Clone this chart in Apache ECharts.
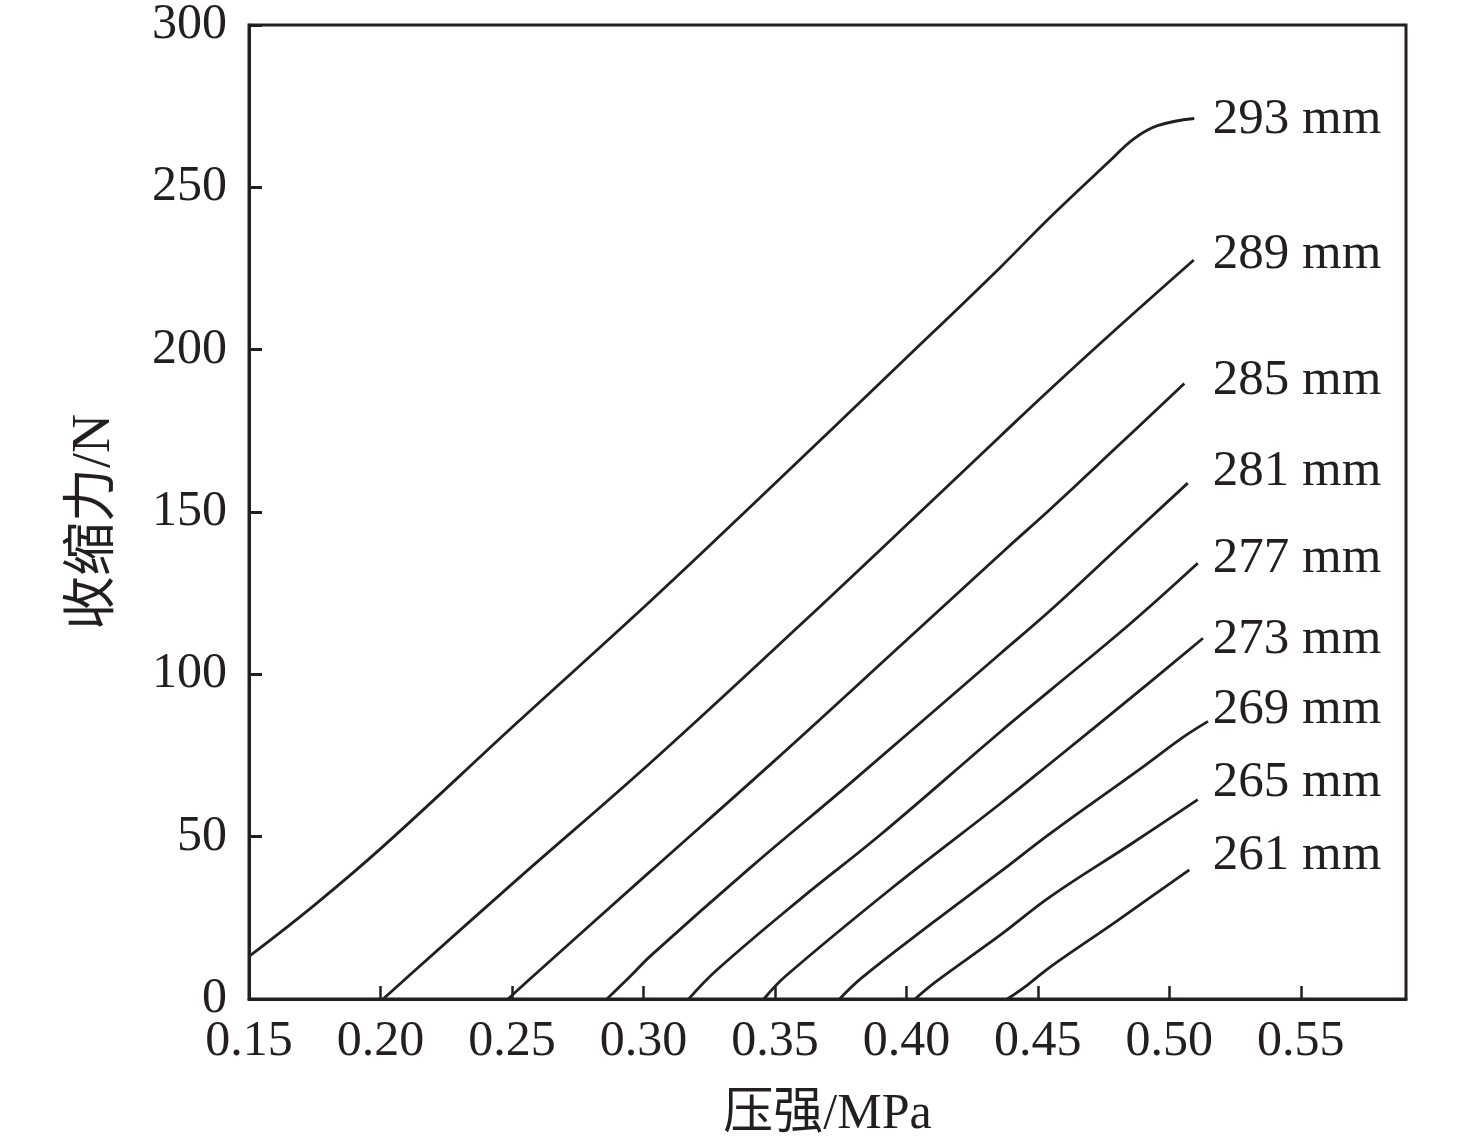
<!DOCTYPE html>
<html>
<head>
<meta charset="utf-8">
<script src="https://cdn.jsdelivr.net/npm/echarts@6/dist/echarts.min.js"></script>
<style>
html,body{margin:0;padding:0;background:#fff;}
#chart{width:1476px;height:1146px;}
</style>
</head>
<body>
<div id="chart"></div>
<script>
// ---- data (pressure MPa, shrink force N) ----
const curveNames = ['293 mm','289 mm','285 mm','281 mm','277 mm','273 mm','269 mm','265 mm','261 mm'];
const c293 = [[0.150,13.1],[0.175,29.0],[0.201,47.0],[0.2518,85.0],[0.3026,122.5],[0.3438,154.0],[0.400,197.5],[0.4359,225.5],[0.4543,240.5],[0.4777,258.4],[0.4866,265.0],[0.4955,269.0],[0.5095,271.2]];
const c289 = [[0.201,0],[0.212,8.0],[0.2518,36.7],[0.3026,72.7],[0.360,115.5],[0.4092,153.0],[0.4359,173.5],[0.4543,187.5],[0.480,206.5],[0.5093,227.6]];
const c285 = [[0.2485,0],[0.258,7.0],[0.3026,39.3],[0.350,73.5],[0.400,110.5],[0.4384,139.0],[0.4549,151.0],[0.480,170.0],[0.5057,189.6]];
const c281 = [[0.2861,0],[0.295,7.0],[0.3026,13.2],[0.340,40.0],[0.3787,66.5],[0.4359,106.5],[0.4549,119.8],[0.4809,139.3],[0.5070,158.9]];
const c277 = [[0.3172,0],[0.328,9.0],[0.360,31.0],[0.390,50.5],[0.4359,82.4],[0.4549,95.2],[0.485,115.5],[0.5108,134.2]];
const c273 = [[0.3458,0],[0.354,7.0],[0.395,34.5],[0.4359,60.3],[0.4549,72.7],[0.485,92.5],[0.5128,111.1]];
const c269 = [[0.3746,0],[0.383,6.5],[0.410,23.5],[0.4359,39.3],[0.4549,51.1],[0.490,71.5],[0.505,80.5],[0.5147,85.5]];
const c265 = [[0.4033,0],[0.411,5.2],[0.4359,19.8],[0.4549,31.6],[0.485,47.5],[0.5108,61.4]];
const c261 = [[0.4384,0],[0.446,4.3],[0.4549,10.0],[0.480,24.0],[0.5076,39.8]];
const curves = [c293,c289,c285,c281,c277,c273,c269,c265,c261];
// label anchors (data units) for the curve names
const labelX = 0.5165;
const labelY = [271.0,229.2,190.6,162.3,135.5,110.6,89.2,66.8,44.1];
// axes
const xMin = 0.15, xMax = 0.59, xStep = 0.05;
const yMin = 0, yMax = 300, yStep = 50;
const xTitle = '压强/MPa';
const yTitle = '收缩力/N';

const INK = '#231f20';
const FONT = '"Liberation Serif", "Times New Roman", "Noto Sans CJK SC", serif';

const chart = echarts.init(document.getElementById('chart'), null, {renderer:'canvas'});

const series = curves.map((d,i)=>({
  type:'line', name:curveNames[i], data:d, symbol:'none', smooth:0.4,
  lineStyle:{color:INK,width:2.8}, silent:true, z:3
}));
series.push({
  type:'scatter', name:'labels', symbolSize:0, silent:true,
  itemStyle:{opacity:1, color:INK},
  data: labelY.map((y,i)=>({value:[labelX,y], name:curveNames[i]})),
  label:{show:true, position:'right', distance:0, formatter:p=>p.name,
    color:INK, opacity:1, fontFamily:FONT, fontSize:51, align:'left', verticalAlign:'middle'}
});

chart.setOption({
  backgroundColor:'#fff',
  animation:false,
  grid:{left:249, right:70, top:24, bottom:147, show:true, borderColor:INK, borderWidth:3, containLabel:false},
  xAxis:{
    type:'value', min:xMin, max:xMax, interval:xStep,
    name:xTitle, nameLocation:'middle', nameGap:91,
    nameTextStyle:{color:INK, fontFamily:FONT, fontSize:50},
    axisLine:{show:true, lineStyle:{color:INK,width:3}},
    axisTick:{show:true, inside:true, length:13, lineStyle:{color:INK,width:2.5}},
    axisLabel:{show:true, margin:18, color:INK, fontFamily:FONT, fontSize:50,
      showMaxLabel:false,
      formatter:v=>{const k=(v-xMin)/xStep; return Math.abs(k-Math.round(k))<1e-6 ? v.toFixed(2) : '';}},
    splitLine:{show:false}
  },
  yAxis:{
    type:'value', min:yMin, max:yMax, interval:yStep,
    name:yTitle, nameLocation:'middle', nameGap:127, nameRotate:90,
    nameTextStyle:{color:INK, fontFamily:FONT, fontSize:54, padding:[0,20,0,0]},
    axisLine:{show:true, lineStyle:{color:INK,width:3}},
    axisTick:{show:true, inside:true, length:13, lineStyle:{color:INK,width:3}},
    axisLabel:{show:true, margin:22, color:INK, fontFamily:FONT, fontSize:50},
    splitLine:{show:false}
  },
  series:series
});
</script>
</body>
</html>
